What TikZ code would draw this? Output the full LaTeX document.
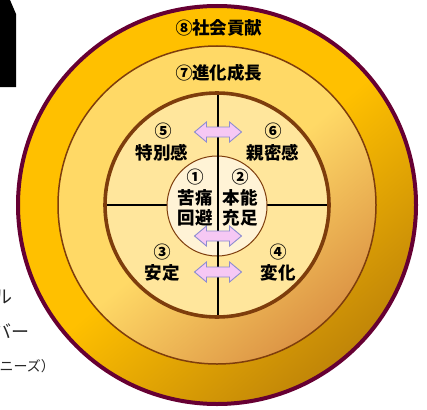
\documentclass[tikz,border=0pt]{standalone}
\usepackage{fontspec}
\newfontfamily\jp{Noto Sans CJK JP}
\usetikzlibrary{calc}
\definecolor{maroonline}{HTML}{660033}
\definecolor{ringA}{HTML}{FFC000}
\definecolor{ringAd}{HTML}{C08508}
\definecolor{ringB}{HTML}{FFD966}
\definecolor{ringBd}{HTML}{DC9445}
\definecolor{innerfill}{HTML}{FFE69C}
\definecolor{corefill}{HTML}{FFF3D6}
\definecolor{brownline}{HTML}{7E3D0C}
\definecolor{arrowfill}{HTML}{F6C8F4}
\definecolor{arrowline}{HTML}{8C8CD0}
\definecolor{sidetext}{HTML}{262626}
\tikzset{
  lbl/.style={font=\jp\bfseries\fontsize{17.5}{20}\selectfont, align=center, inner sep=0pt},
  num/.style={font=\jp\bfseries\fontsize{17}{18}\selectfont, inner sep=0pt},
  arrowstyle/.style={fill=arrowfill, draw=arrowline, line width=0.9pt, line join=miter},
  side/.style={font=\jp\fontsize{18}{19}\selectfont, text=sidetext, inner sep=0pt, anchor=east},
  sidesmall/.style={font=\jp\fontsize{14}{15}\selectfont, text=sidetext, inner sep=0pt, anchor=east},
  quarter/.style={black, line width=1.3pt}
}
\newcommand{\pinkarrow}[2]{%
  \coordinate (#1) at #2;
  \filldraw[arrowstyle] ($(#1)+(-23.5,0)$) -- ++(12,-10) -- ++(0,5) -- ++(23,0) -- ++(0,-5)
    -- ++(12,10) -- ++(-12,10) -- ++(0,-5) -- ++(-23,0) -- ++(0,5) -- cycle;}
\begin{document}
\begin{tikzpicture}[x=1pt,y=-1pt]
\useasboundingbox (0,0) rectangle (427,409);
\begin{scope}
\clip (0,0) rectangle (427,409);
% top-left black tab
\fill[black] (0,0) -- (10,0) -- (16,14) -- (16,87) -- (0,87) -- cycle;
% outer ring
\coordinate (c) at (217,205);
\shade[top color=ringA, bottom color=ringAd, middle color=ringA, shading angle=40] (c) circle (200);
\draw[maroonline, line width=4pt] (c) circle (199);
% ring 7
\shade[top color=ringB, bottom color=ringBd, middle color=ringB, shading angle=40] (c) circle (159);
\draw[brownline, line width=1.5pt] (c) circle (159);
% inner circle
\fill[innerfill] (c) circle (112);
\coordinate (hl) at (105,205);
\coordinate (hr) at (329,205);
\draw[quarter] (hl) -- (hr);
\coordinate (cc) at (217,206);
\fill[corefill] (cc) circle (50);
\draw[brownline, line width=1pt] (cc) circle (50);
\coordinate (vt) at (218,93);
\coordinate (vb) at (218,317);
\draw[quarter] (vt) -- (vb);
\draw[brownline, line width=3.6pt] (c) circle (112);
% arrows
\pinkarrow{a1}{(218,132)}
\pinkarrow{a2}{(218,236)}
\pinkarrow{a3}{(218,272)}
% labels
\node[num] (n8) at (184,28) {⑧};
\node[lbl, anchor=west] (t8) at (192,28) {社会貢献};
\node[num] (n7) at (184,73) {⑦};
\node[lbl, anchor=west] (t7) at (192,73) {進化成長};
\node[num] (n5) at (163,131) {⑤};
\node[lbl] (t5) at (162,153) {特別感};
\node[num] (n6) at (273,131) {⑥};
\node[lbl] (t6) at (273,153) {親密感};
\node[num] (n1) at (195,177) {①};
\node[lbl] (t1) at (195,208) {苦痛\\回避};
\node[num] (n2) at (240,177) {②};
\node[lbl] (t2) at (240,208) {本能\\充足};
\node[num] (n3) at (162,252) {③};
\node[lbl] (t3) at (162,273) {安定};
\node[num] (n4) at (278,252) {④};
\node[lbl] (t4) at (278,273) {変化};
% cut-off side texts
\node[side] (s1) at (12.5,297) {ル};
\node[side] (s2) at (30,331) {バー};
\node[sidesmall] (s3) at (55,366) {ニーズ）};
\end{scope}
\end{tikzpicture}
\end{document}
